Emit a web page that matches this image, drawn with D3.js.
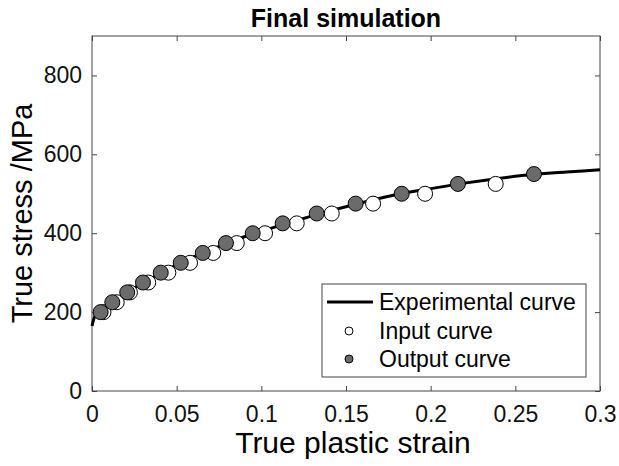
<!DOCTYPE html>
<html><head><meta charset="utf-8">
<script src="https://cdn.jsdelivr.net/npm/d3@7"></script>
<style>body{margin:0;background:#fff;} svg{display:block;font-family:Arial,"Liberation Sans",sans-serif;}</style>
</head><body><div id="chart"></div>
<script>
const xTicks = [0, 0.05, 0.1, 0.15, 0.2, 0.25, 0.3];
const xTickLabels = ["0", "0.05", "0.1", "0.15", "0.2", "0.25", "0.3"];
const yTicks = [0, 200, 400, 600, 800];
const expStrain = [0, 0.001, 0.003, 0.005, 0.01, 0.02, 0.03, 0.04, 0.05, 0.06, 0.07, 0.08, 0.09, 0.1, 0.12, 0.14, 0.16, 0.18, 0.2, 0.22, 0.24, 0.26, 0.28, 0.3];
const expStress = [165, 182, 196, 203, 219, 249, 273, 298, 320, 340, 358, 375, 391, 405, 431, 456, 478, 498, 513, 527, 539, 549, 555, 561];
const inputStrain = [0.0068, 0.0146, 0.0224, 0.0332, 0.0451, 0.0579, 0.0716, 0.0855, 0.1022, 0.1209, 0.1416, 0.1660, 0.1967, 0.2384];
const inputStress = [200, 225, 250, 275, 300, 325, 350, 375, 400, 425, 450, 475, 500, 525];
const outputStrain = [0.0051, 0.0120, 0.0208, 0.0301, 0.0406, 0.0524, 0.0654, 0.0791, 0.0949, 0.1126, 0.1327, 0.1557, 0.1829, 0.2161, 0.2610];
const outputStress = [200, 225, 250, 275, 300, 325, 350, 375, 400, 425, 450, 475, 500, 525, 550];

const W = 619, H = 466;
const m = {l: 92, r: 19, t: 36, b: 75};
const svg = d3.select("#chart").append("svg").attr("width", W).attr("height", H);
const x = d3.scaleLinear().domain([0, 0.3]).range([m.l, W - m.r]);
const y = d3.scaleLinear().domain([0, 900]).range([H - m.b, m.t]);
const axisColor = "#444";
const FF = "Arial, 'Liberation Sans', sans-serif";

// box
svg.append("rect").attr("x", m.l).attr("y", m.t).attr("width", W - m.r - m.l).attr("height", H - m.b - m.t)
  .attr("fill", "none").attr("stroke", axisColor).attr("stroke-width", 1);

const fmt = d => xTickLabels[xTicks.indexOf(d)];
const gx = svg.append("g").attr("transform", `translate(0,${H - m.b})`)
  .call(d3.axisBottom(x).tickValues(xTicks).tickFormat(fmt).tickSizeInner(-5).tickSizeOuter(0).tickPadding(15));
const gxt = svg.append("g").attr("transform", `translate(0,${m.t})`)
  .call(d3.axisTop(x).tickValues(xTicks).tickFormat("").tickSizeInner(-5).tickSizeOuter(0));
const gy = svg.append("g").attr("transform", `translate(${m.l},0)`)
  .call(d3.axisLeft(y).tickValues(yTicks).tickSizeInner(-5).tickSizeOuter(0).tickPadding(10));
const gyr = svg.append("g").attr("transform", `translate(${W - m.r},0)`)
  .call(d3.axisRight(y).tickValues(yTicks).tickFormat("").tickSizeInner(-5).tickSizeOuter(0));
[gx, gxt, gy, gyr].forEach(g => {
  g.select(".domain").remove();
  g.selectAll("line").attr("stroke", axisColor);
  g.selectAll("text").attr("fill", "#111").style("font-size", "23px").style("font-family", FF);
});

// experimental curve
const line = d3.line().x(d => x(d[0])).y(d => y(d[1])).curve(d3.curveMonotoneX);
svg.append("path").datum(expStrain.map((s, i) => [s, expStress[i]]))
  .attr("d", line).attr("fill", "none").attr("stroke", "#000").attr("stroke-width", 3);

// input points
svg.append("g").selectAll("circle").data(inputStrain.map((s, i) => [s, inputStress[i]])).join("circle")
  .attr("cx", d => x(d[0])).attr("cy", d => y(d[1])).attr("r", 7.5)
  .attr("fill", "#fff").attr("stroke", "#000").attr("stroke-width", 1);
// output points
svg.append("g").selectAll("circle").data(outputStrain.map((s, i) => [s, outputStress[i]])).join("circle")
  .attr("cx", d => x(d[0])).attr("cy", d => y(d[1])).attr("r", 7.5)
  .attr("fill", "#6b6b6b").attr("stroke", "#000").attr("stroke-width", 1);

// title & labels
svg.append("text").attr("x", 346).attr("y", 27).attr("text-anchor", "middle")
  .style("font-size", "25px").style("font-weight", "bold").text("Final simulation");
svg.append("text").attr("x", 353).attr("y", 453).attr("text-anchor", "middle")
  .style("font-size", "30px").text("True plastic strain");
svg.append("text").attr("transform", `translate(32,${(m.t + H - m.b) / 2}) rotate(-90)`).attr("text-anchor", "middle")
  .style("font-size", "29px").text("True stress /MPa");

// legend
const lg = svg.append("g");
lg.append("rect").attr("x", 322).attr("y", 284).attr("width", 264).attr("height", 93)
  .attr("fill", "#fff").attr("stroke", axisColor).attr("stroke-width", 1);
lg.append("line").attr("x1", 327).attr("x2", 373).attr("y1", 302).attr("y2", 302).attr("stroke", "#000").attr("stroke-width", 3);
lg.append("circle").attr("cx", 349).attr("cy", 331).attr("r", 4).attr("fill", "#fff").attr("stroke", "#000");
lg.append("circle").attr("cx", 349).attr("cy", 359).attr("r", 4).attr("fill", "#6b6b6b").attr("stroke", "#000");
const items = ["Experimental curve", "Input curve", "Output curve"];
lg.selectAll("text.l").data(items).join("text").attr("class", "l")
  .attr("x", 379).attr("y", (d, i) => 302 + i * 28.5).attr("dy", "0.35em")
  .style("font-size", "23px").text(d => d);
</script></body></html>
